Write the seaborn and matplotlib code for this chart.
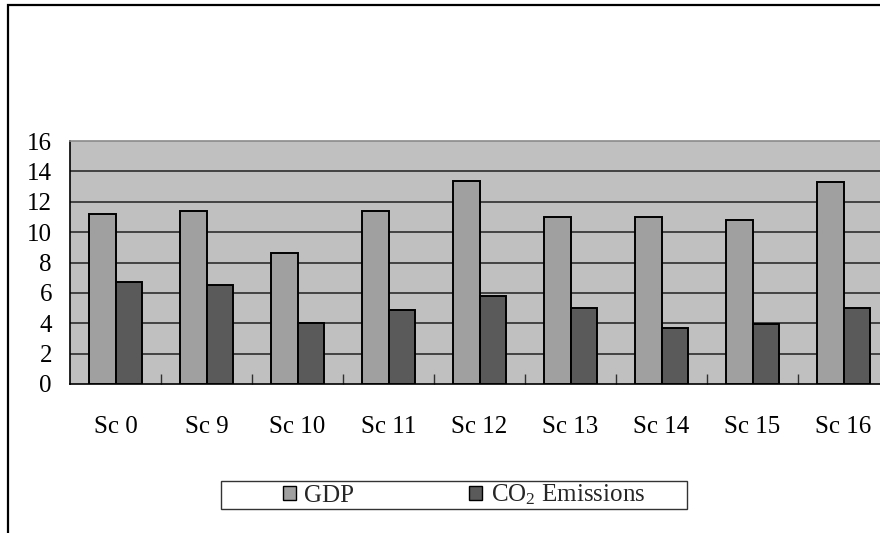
import matplotlib
matplotlib.use("Agg")
import matplotlib.pyplot as plt
from matplotlib.patches import Rectangle, Patch
from matplotlib.ticker import FixedLocator
import seaborn as sns
import pandas as pd

scenarios = ["Sc 0", "Sc 9", "Sc 10", "Sc 11", "Sc 12", "Sc 13", "Sc 14", "Sc 15", "Sc 16"]
gdp = [11.2, 11.4, 8.6, 11.4, 13.35, 11.0, 11.0, 10.8, 13.3]
co2 = [6.7, 6.5, 4.0, 4.85, 5.8, 5.0, 3.7, 3.95, 5.0]
series_names = ["GDP", "CO$_2$ Emissions"]
y_ticks = [0, 2, 4, 6, 8, 10, 12, 14, 16]

df = pd.DataFrame({
    "Scenario": scenarios * 2,
    "Value": gdp + co2,
    "Series": [series_names[0]] * len(scenarios) + [series_names[1]] * len(scenarios),
})

sns.set_theme(style="white")
plt.rcParams["font.family"] = ["Liberation Serif", "DejaVu Serif"]
plt.rcParams["mathtext.default"] = "regular"

W, H = 880, 533
FS = 18
fig = plt.figure(figsize=(W / 100, H / 100), dpi=100)
fig.patch.set_facecolor("white")

# plot area in pixel terms
left, right, top, bottom = 70, 889, 141, 384
ax = fig.add_axes([left / W, 1 - bottom / H, (right - left) / W, (bottom - top) / H])
ax.set_facecolor("#C0C0C0")

colors = ["#A0A0A0", "#5A5A5A"]
sns.barplot(data=df, x="Scenario", y="Value", hue="Series", palette=colors,
            width=0.58, gap=0, edgecolor="black", linewidth=1.4,
            saturation=1, legend=False, ax=ax, zorder=3)

ax.set_ylim(0, 16)
ax.set_xlim(-0.5, len(scenarios) - 0.5)
ax.set_yticks(y_ticks)
ax.set_yticklabels([str(t) for t in y_ticks])
for t in y_ticks[1:-1]:
    ax.axhline(t, color="#202020", lw=1.1, zorder=1)

ax.set_xlabel("")
ax.set_ylabel("")
for side in ["left", "bottom"]:
    ax.spines[side].set_color("black")
    ax.spines[side].set_linewidth(1.2)
ax.spines["top"].set_color("#8A8A8A")
ax.spines["top"].set_linewidth(1.2)
ax.spines["right"].set_visible(False)

ax.tick_params(axis="y", which="major", direction="in", length=4, width=1,
               color="black", labelsize=FS, pad=13, labelcolor="black")
ax.tick_params(axis="x", which="major", length=0, labelsize=FS, pad=23,
               labelcolor="black")
ax.xaxis.set_minor_locator(FixedLocator([i + 0.5 for i in range(len(scenarios) - 1)]))
ax.tick_params(axis="x", which="minor", direction="in", length=7, width=1,
               color="#303030", bottom=True)

# legend below the chart
handles = [Patch(facecolor=c, edgecolor="black", linewidth=1.0) for c in colors]
leg = fig.legend(handles, series_names, loc="center left",
                 bbox_to_anchor=(283 / W, 1 - 495 / H), frameon=False,
                 ncol=2, fontsize=FS, handlelength=0.5, handleheight=0.5,
                 handletextpad=0.35, columnspacing=4.6, borderpad=0, borderaxespad=0)
fig.patches.append(Rectangle((221 / W, 1 - 509 / H), 466 / W, 28 / H,
                             transform=fig.transFigure, facecolor="none",
                             edgecolor="#333333", linewidth=1.0))

# outer chart frame (top and left edges visible)
fig.patches.append(Rectangle((8 / W, -0.1), 1.2, 1.1 - 5 / H,
                             transform=fig.transFigure, facecolor="none",
                             edgecolor="black", linewidth=1.6))

fig.savefig("out.png", dpi=100)
